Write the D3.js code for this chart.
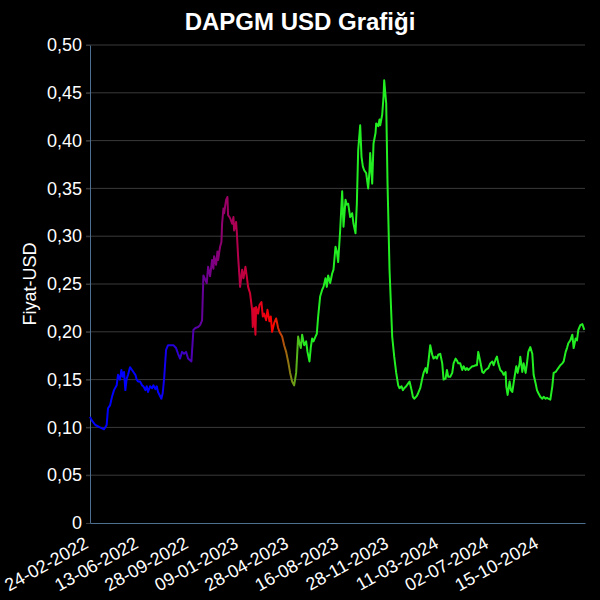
<!DOCTYPE html>
<html>
<head>
<meta charset="utf-8">
<script src="https://cdn.jsdelivr.net/npm/d3@7"></script>
<style>
  html, body { margin: 0; padding: 0; background: #000; }
  svg { display: block; }
  text { font-family: "Liberation Sans", Arial, Helvetica, sans-serif; }
</style>
</head>
<body>
<div id="chart"></div>
<script>
// ---- data (trading-day index, price in USD) ----
const tickLabels = ["24-02-2022","13-06-2022","28-09-2022","09-01-2023","28-04-2023",
                    "16-08-2023","28-11-2023","11-03-2024","02-07-2024","15-10-2024"];
const tickIdx = [0, 75, 150, 225, 300, 375, 450, 525, 600, 675];
const lastIdx = 742;

const dayIdx = [
  0,3,8,15,21,25,27,30,33,36,40,42,45,47,49,51,53,55,57,60,63,65,68,70,72,75,78,80,83,85,87,90,93,95,98,100,102,107,109,111,114,117,120,125,129,132,135,138,141,144,147,
  152,155,158,162,165,168,170,173,175,177,180,183,185,186,189,191,192,195,197,198,200,201,204,206,207,210,213,215,216,219,220,222,224,225,228,230,233,235,237,240,243,244,246,248,249,252,254,257,259,261,264,266,269,271,273,276,279,282,284,288,291,294,297,
  300,303,306,309,312,314,316,318,321,324,326,329,331,333,335,338,340,342,345,348,350,353,355,357,360,363,365,368,370,372,375,378,380,383,385,387,390,393,395,398,400,402,405,407,409,411,414,417,419,420,423,425,428,429,432,434,435,438,440,441,444,446,449,452,453,456,459,462,464,
  467,469,471,474,477,479,482,484,486,490,492,495,498,500,503,505,507,510,513,515,518,520,522,525,528,530,533,535,537,540,543,545,548,550,552,555,558,560,563,565,567,570,573,575,578,580,582,585,588,590,593,
  597,600,603,605,608,610,612,615,618,620,623,624,626,629,631,633,636,639,641,644,645,648,650,653,655,657,660,663,665,668,670,672,675,678,680,683,685,687,690,693,695,698,700,702,705,708,710,713,715,717,720,723,725,728,730,732,735,738,740,741
];
const prices = [
  0.111,0.107,0.1025,0.100,0.098,0.1025,0.120,0.123,0.132,0.139,0.144,0.155,0.150,0.160,0.153,0.158,0.139,0.151,0.155,0.163,0.160,0.158,0.155,0.150,0.148,0.148,0.144,0.143,0.139,0.143,0.137,0.143,0.141,0.144,0.140,0.143,0.137,0.130,0.136,0.150,0.181,0.186,0.186,0.186,0.183,0.177,0.172,0.179,0.177,0.179,0.172,
  0.169,0.202,0.204,0.205,0.207,0.212,0.259,0.254,0.251,0.268,0.258,0.275,0.266,0.279,0.270,0.284,0.275,0.289,0.294,0.313,0.329,0.324,0.338,0.341,0.322,0.319,0.313,0.320,0.306,0.315,0.305,0.279,0.258,0.247,0.265,0.256,0.268,0.258,0.247,0.240,0.223,0.205,0.225,0.197,0.226,0.219,0.228,0.231,0.216,0.219,0.212,0.223,0.211,0.216,0.200,0.209,0.214,0.204,0.200,0.195,0.186,0.179,0.169,
  0.157,0.148,0.144,0.157,0.195,0.188,0.183,0.197,0.186,0.190,0.179,0.169,0.184,0.193,0.190,0.195,0.198,0.216,0.237,0.244,0.247,0.256,0.247,0.259,0.251,0.261,0.265,0.289,0.284,0.273,0.306,0.347,0.310,0.338,0.333,0.334,0.320,0.324,0.313,0.303,0.334,0.390,0.416,0.383,0.373,0.369,0.366,0.350,0.369,0.387,0.355,0.397,0.408,0.418,0.415,0.422,0.416,0.427,0.446,0.463,0.439,0.355,0.265,0.212,0.195,0.174,0.157,0.144,0.141,
  0.143,0.139,0.141,0.143,0.146,0.148,0.139,0.132,0.130,0.133,0.136,0.141,0.151,0.157,0.162,0.157,0.167,0.186,0.176,0.172,0.174,0.172,0.176,0.177,0.167,0.150,0.151,0.160,0.153,0.153,0.157,0.167,0.172,0.170,0.167,0.167,0.160,0.164,0.160,0.162,0.160,0.162,0.164,0.164,0.165,0.165,0.179,0.169,0.158,0.157,0.160,
  0.162,0.167,0.169,0.165,0.171,0.174,0.167,0.160,0.158,0.155,0.158,0.143,0.134,0.148,0.139,0.137,0.151,0.164,0.157,0.167,0.174,0.158,0.167,0.157,0.167,0.179,0.184,0.177,0.155,0.146,0.139,0.136,0.132,0.130,0.132,0.130,0.131,0.130,0.129,0.143,0.157,0.158,0.160,0.162,0.165,0.167,0.169,0.179,0.183,0.188,0.191,0.197,0.183,0.193,0.191,0.202,0.207,0.208,0.204,0.202
];
const yTicks = [0,0.05,0.10,0.15,0.20,0.25,0.30,0.35,0.40,0.45,0.50];
// colour stops along the trading-day axis
const colorStopIdx = [0, 100, 273, 322];
const colorStops = ["#0000ff", "#0000ff", "#ff0000", "#22ee22"];

// ---- chart ----
const W = 600, H = 600;
const m = {top: 45, right: 15, bottom: 77, left: 90};

const svg = d3.select("#chart").append("svg")
  .attr("width", W).attr("height", H)
  .style("background", "#000");

const x = d3.scaleLinear().domain([0, lastIdx]).range([m.left, W - m.right]);
const y = d3.scaleLinear().domain([0, 0.5]).range([H - m.bottom, m.top]);

// gridlines
svg.append("g").selectAll("line").data(yTicks.slice(1)).join("line")
  .attr("x1", m.left - 4).attr("x2", W - m.right)
  .attr("y1", d => y(d)).attr("y2", d => y(d))
  .attr("stroke", "#3a3a3a").attr("stroke-width", 1);

// title
svg.append("text").attr("x", 300).attr("y", 30).attr("text-anchor", "middle")
  .attr("fill", "#fff").attr("font-size", 24).attr("font-weight", "bold")
  .text("DAPGM USD Grafiği");

// y axis
const fmt = d => d === 0 ? "0" : d3.format(".2f")(d).replace(".", ",");
const yAxis = svg.append("g").attr("transform", `translate(${m.left},0)`)
  .call(d3.axisLeft(y).tickValues(yTicks).tickFormat(fmt).tickSize(4).tickSizeOuter(0).tickPadding(4));
yAxis.select(".domain").attr("stroke", "#4d7090");
yAxis.selectAll(".tick line").attr("stroke", "#3a3a3a");
yAxis.selectAll("text").attr("fill", "#fff").attr("font-size", 18)
  .attr("font-family", "Liberation Sans, Arial, sans-serif");

// x axis
const xAxis = svg.append("g").attr("transform", `translate(0,${H - m.bottom})`)
  .call(d3.axisBottom(x).tickValues(tickIdx).tickFormat((d, i) => tickLabels[i]).tickSize(0).tickSizeOuter(0));
xAxis.select(".domain").attr("stroke", "#4d7090");
xAxis.selectAll("text")
  .attr("fill", "#fff").attr("font-size", 18)
  .attr("font-family", "Liberation Sans, Arial, sans-serif")
  .attr("text-anchor", "end")
  .attr("x", 0).attr("y", 0).attr("dy", null)
  .attr("transform", "translate(-1,24) rotate(-29)");

// y label
svg.append("text").attr("transform", `translate(36,${(m.top + H - m.bottom) / 2}) rotate(-90)`)
  .attr("text-anchor", "middle").attr("fill", "#fff").attr("font-size", 18)
  .text("Fiyat-USD");

// gradient
const grad = svg.append("defs").append("linearGradient")
  .attr("id", "lineGrad").attr("gradientUnits", "userSpaceOnUse")
  .attr("x1", x(0)).attr("x2", x(lastIdx)).attr("y1", 0).attr("y2", 0);
grad.selectAll("stop").data(colorStopIdx).join("stop")
  .attr("offset", d => d / lastIdx)
  .attr("stop-color", (d, i) => colorStops[i]);

// line
const pts = dayIdx.map((d, i) => [d, prices[i]]);
svg.append("path").datum(pts)
  .attr("fill", "none")
  .attr("stroke", "url(#lineGrad)")
  .attr("stroke-width", 2)
  .attr("stroke-linejoin", "round")
  .attr("d", d3.line().x(d => x(d[0])).y(d => y(d[1])));
</script>
</body>
</html>
